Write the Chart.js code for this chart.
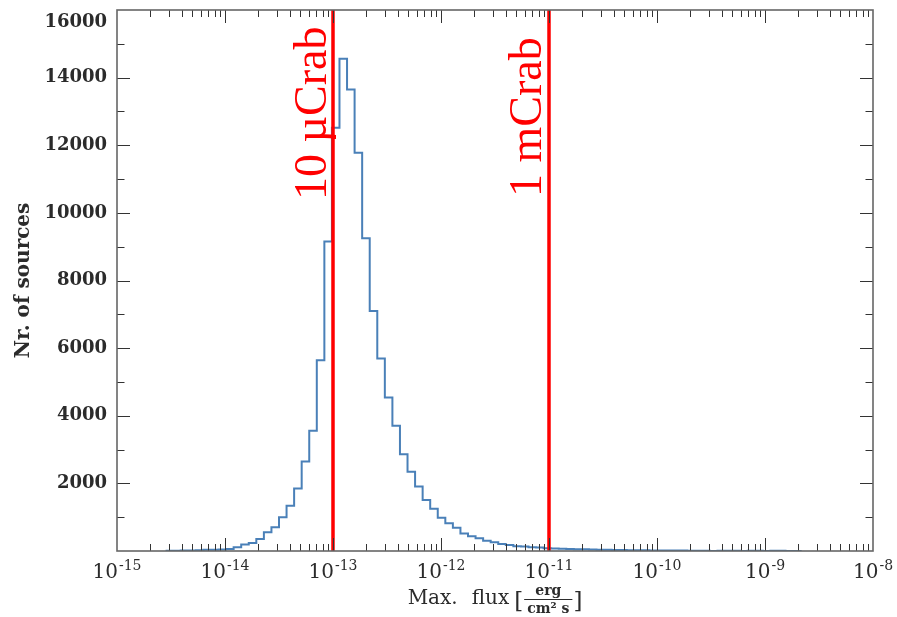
<!DOCTYPE html>
<html><head><meta charset="utf-8">
<script src="https://cdn.jsdelivr.net/npm/chart.js@4"></script>
<style>html,body{margin:0;padding:0;background:#fff;}canvas{display:block;}</style>
</head><body>
<canvas id="c" width="897" height="617"></canvas>
<script>
// ---- data ----
const binEdgesLog = [
 -14.55,-14.48,-14.41,-14.34,-14.27,-14.20,-14.13,-14.06,-13.99,-13.92,
 -13.85,-13.78,-13.71,-13.64,-13.57,-13.50,-13.43,-13.36,-13.29,-13.22,
 -13.15,-13.08,-13.01,-12.94,-12.87,-12.80,-12.73,-12.66,-12.59,-12.52,
 -12.45,-12.38,-12.31,-12.24,-12.17,-12.10,-12.03,-11.96,-11.89,-11.82,
 -11.75,-11.68,-11.61,-11.54,-11.47,-11.40,-11.33,-11.26,-11.19,-11.12,
 -11.05,-10.98,-10.91,-10.84,-10.77,-10.70,-10.63,-10.56,-10.49,-10.42,
 -10.35,-10.28,-10.21,-10.14,-10.07,-10.00,-9.93,-9.86,-9.79,-9.72,
 -9.65,-9.58,-9.51,-9.44,-9.37,-9.30,-9.23,-9.16,-9.09,-9.02,
 -8.95,-8.88,-8.81,-8.74,-8.67
];
const counts = [
 8,10,12,15,20,35,40,45,60,110,
 190,236,354,552,700,995,1339,1852,2650,3560,
 5642,9157,12516,14560,13648,11778,9246,7099,5692,4540,
 3702,2865,2343,1910,1510,1250,985,820,690,515,
 434,375,305,256,207,177,140,130,110,100,
 85,75,68,60,55,50,45,40,36,32,
 28,25,22,20,18,16,15,14,12,11,
 10,9,0,8,7,6,0,5,5,0,
 4,4,0,3
];
const markerFlux = [1e-13, 1e-11];
const markerLabels = ['10 µCrab', '1 mCrab'];
const xDecades = [-15,-14,-13,-12,-11,-10,-9,-8];
const yMajorTicks = [2000,4000,6000,8000,10000,12000,14000,16000];
const yTitle = 'Nr. of sources';
const xTitleParts = ['Max.', 'flux', 'erg', 'cm² s'];

// ---- build datasets from data ----
const histPoints = binEdgesLog.map((e, i) => ({ x: Math.pow(10, e), y: i < counts.length ? counts[i] : 0 }));
const markerSets = markerFlux.map(f => ({
  data: [{ x: f, y: 0 }, { x: f, y: 16000 }],
  borderColor: '#ff0000', borderWidth: 3.5, pointRadius: 0, order: 0
}));

const SERIF = '"DejaVu Serif", serif';
const TXT = '#2b2b2b';

const decor = {
  id: 'decor',
  afterDraw(chart) {
    const { ctx, chartArea: a, scales: { x, y } } = chart;
    ctx.save();
    // inward tick marks
    ctx.strokeStyle = '#333'; ctx.lineWidth = 1;
    ctx.beginPath();
    for (let n = -15; n < -8; n++) {
      for (let m = 1; m <= 9; m++) {
        if (m === 1 && n === -15) continue;
        const px = Math.round(x.getPixelForValue(m * Math.pow(10, n))) + 0.5;
        const L = m === 1 ? 13 : 7;
        ctx.moveTo(px, a.bottom); ctx.lineTo(px, a.bottom - L);
        ctx.moveTo(px, a.top); ctx.lineTo(px, a.top + L);
      }
    }
    for (let v = 1000; v < 16000; v += 1000) {
      const py = Math.round(y.getPixelForValue(v)) + 0.5;
      const L = v % 2000 === 0 ? 13 : 7.5;
      ctx.moveTo(a.left, py); ctx.lineTo(a.left + L, py);
      ctx.moveTo(a.right, py); ctx.lineTo(a.right - L, py);
    }
    ctx.stroke();
    // frame
    ctx.strokeStyle = '#666'; ctx.lineWidth = 1.6;
    ctx.strokeRect(a.left, a.top, a.right - a.left, a.bottom - a.top);

    // x tick labels 10^n
    ctx.fillStyle = TXT;
    ctx.textBaseline = 'alphabetic'; ctx.textAlign = 'left';
    xDecades.forEach(n => {
      const px = x.getPixelForValue(Math.pow(10, n));
      ctx.font = '20px ' + SERIF;
      const wb = ctx.measureText('10').width;
      ctx.font = '14px ' + SERIF;
      const ex = '-' + String(-n);
      const we = ctx.measureText(ex).width;
      const x0 = px - (wb + we + 1) / 2;
      ctx.font = '20px ' + SERIF;
      ctx.fillText('10', x0, 578);
      ctx.font = '14px ' + SERIF;
      ctx.fillText(ex, x0 + wb + 1, 570);
    });

    // top y label (kept inside frame as in reference)
    ctx.font = 'bold 18px ' + SERIF;
    ctx.textAlign = 'right'; ctx.textBaseline = 'middle';
    ctx.fillText(String(yMajorTicks[yMajorTicks.length - 1]), a.left - 10, 22);

    // x title with fraction
    ctx.textBaseline = 'alphabetic'; ctx.textAlign = 'left';
    const f1 = '20px ' + SERIF, fFrac = 'bold 14px ' + SERIF, fBr = '23px ' + SERIF;
    ctx.font = f1;
    const wMax = ctx.measureText(xTitleParts[0]).width;
    const wFlux = ctx.measureText(xTitleParts[1]).width;
    ctx.font = fBr;
    const wBr = ctx.measureText('[').width;
    ctx.font = fFrac;
    const wNum = ctx.measureText(xTitleParts[2]).width;
    const wDen = ctx.measureText(xTitleParts[3]).width;
    const wFrac = Math.max(wNum, wDen) + 8;
    const gap = 14;
    const total = wMax + gap + wFlux + 5 + wBr + wFrac + wBr;
    let cx = (a.left + a.right) / 2 - total / 2;
    ctx.font = f1;
    ctx.fillText(xTitleParts[0], cx, 604); cx += wMax + gap;
    ctx.fillText(xTitleParts[1], cx, 604); cx += wFlux + 5;
    ctx.font = fBr;
    ctx.fillText('[', cx, 608); cx += wBr;
    ctx.font = fFrac;
    ctx.textAlign = 'center';
    const fc = cx + wFrac / 2;
    ctx.fillText(xTitleParts[2], fc, 595);
    ctx.fillText(xTitleParts[3], fc, 613);
    ctx.strokeStyle = TXT; ctx.lineWidth = 1;
    ctx.beginPath(); ctx.moveTo(cx + 1, 599.5); ctx.lineTo(cx + wFrac - 1, 599.5); ctx.stroke();
    cx += wFrac;
    ctx.textAlign = 'left';
    ctx.font = fBr;
    ctx.fillText(']', cx, 608);

    // red rotated marker labels
    ctx.fillStyle = '#ff0000';
    ctx.font = '46px "Liberation Serif", serif';
    const anchorVals = [10380, 10470];
    const offs = [7, 8];
    markerFlux.forEach((f, i) => {
      const px = x.getPixelForValue(f) - offs[i];
      const py = y.getPixelForValue(anchorVals[i]);
      ctx.save();
      ctx.translate(px, py);
      ctx.rotate(-Math.PI / 2);
      ctx.textAlign = 'left'; ctx.textBaseline = 'alphabetic';
      ctx.fillText(markerLabels[i], 0, 0);
      ctx.restore();
    });
    ctx.restore();
  }
};

new Chart(document.getElementById('c'), {
  type: 'line',
  data: {
    datasets: [
      ...markerSets,
      {
        data: histPoints,
        stepped: 'before',
        borderColor: '#4a80b8', borderWidth: 2,
        pointRadius: 0, fill: false, order: 1
      }
    ]
  },
  options: {
    responsive: false,
    animation: false,
    devicePixelRatio: 1,
    layout: { padding: { top: 10, right: 24, bottom: 0, left: 0 } },
    plugins: { legend: { display: false }, tooltip: { enabled: false } },
    scales: {
      x: {
        type: 'logarithmic', min: 1e-15, max: 1e-8,
        grid: { display: false }, border: { display: false },
        ticks: { display: false },
        afterFit(s) { s.height = 66; s.paddingLeft = 0; s.paddingRight = 0; }
      },
      y: {
        type: 'linear', min: 0, max: 16000,
        grid: { display: false, drawTicks: false }, border: { display: false },
        ticks: {
          stepSize: 2000, padding: 10, color: TXT,
          font: { family: SERIF, size: 18, weight: 'bold' },
          callback: v => (v > 0 && v < 16000 && yMajorTicks.includes(v)) ? String(v) : ''
        },
        title: {
          display: true, text: yTitle, color: TXT,
          font: { family: SERIF, size: 20, weight: 'bold' },
          padding: { top: 12, bottom: 0 }
        },
        afterFit(s) { s.width = 117; s.paddingTop = 0; s.paddingBottom = 0; }
      }
    }
  },
  plugins: [decor]
});
</script>
</body></html>
